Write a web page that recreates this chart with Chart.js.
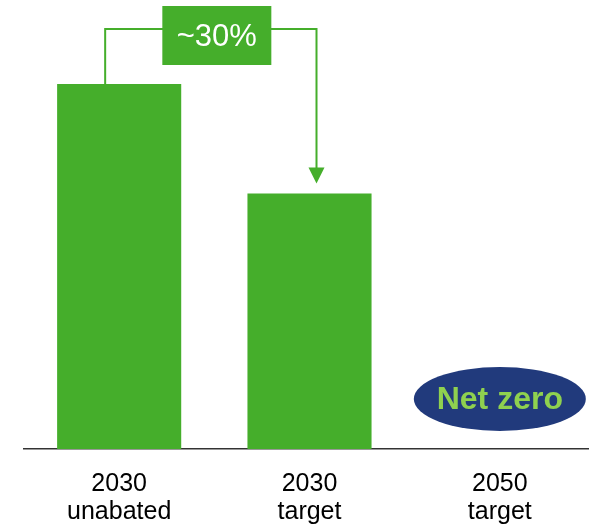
<!DOCTYPE html>
<html>
<head>
    <title>Emissions reduction</title>
    <script src="https://cdn.jsdelivr.net/npm/chart.js"></script>
    <style>
        body { margin: 0; overflow: hidden; background: #fff; }
        #wrap { position: relative; width: 596px; height: 528px; }
    </style>
</head>
<body>
    <div id="wrap"><canvas id="emissionsChart"></canvas></div>

    <script>
        // data (2030 unabated = 100)
        const categories = [['2030', 'unabated'], ['2030', 'target'], ['2050', 'target']];
        const emissions = [100, 70, 0];
        const reductionLabel = '~30%';
        const netZeroLabel = 'Net zero';

        const green = '#45ae2b';

        // bracket with arrow, the ~30% box and the Net zero ellipse
        const annotations = {
            id: 'annotations',
            afterDatasetsDraw(chart) {
                const ctx = chart.ctx;
                const x = chart.scales.x;
                const y = chart.scales.y;
                const x0 = x.getPixelForValue(0) - 14;
                const x1 = x.getPixelForValue(1) + 7;
                const top0 = y.getPixelForValue(emissions[0]);
                const top1 = y.getPixelForValue(emissions[1]);
                const lineY = top0 - 55;

                ctx.save();
                ctx.strokeStyle = green;
                ctx.fillStyle = green;
                ctx.lineWidth = 2;
                ctx.beginPath();
                ctx.moveTo(x0, top0);
                ctx.lineTo(x0, lineY);
                ctx.lineTo(x1, lineY);
                ctx.lineTo(x1, top1 - 20);
                ctx.stroke();
                ctx.beginPath();
                ctx.moveTo(x1 - 8, top1 - 26);
                ctx.lineTo(x1 + 8, top1 - 26);
                ctx.lineTo(x1, top1 - 10);
                ctx.closePath();
                ctx.fill();

                // label box
                const bx = (x0 + x1) / 2 + 6;
                ctx.fillRect(bx - 54.5, lineY - 23, 109, 59);
                ctx.fillStyle = '#fff';
                ctx.font = '31px Arial, "Liberation Sans", sans-serif';
                ctx.textAlign = 'center';
                ctx.textBaseline = 'middle';
                ctx.fillText(reductionLabel, bx, lineY + 8);

                // net zero ellipse
                const ex = x.getPixelForValue(2);
                const ey = y.getPixelForValue(0) - 50;
                ctx.fillStyle = '#213a7c';
                ctx.beginPath();
                ctx.ellipse(ex, ey, 86, 32, 0, 0, Math.PI * 2);
                ctx.fill();
                ctx.fillStyle = '#8fd14f';
                ctx.font = 'bold 32px Arial, "Liberation Sans", sans-serif';
                ctx.fillText(netZeroLabel, ex, ey + 1);
                ctx.restore();
            }
        };

        const emissionsChart = new Chart(document.getElementById('emissionsChart'), {
            type: 'bar',
            data: {
                labels: categories,
                datasets: [{
                    data: emissions,
                    backgroundColor: green,
                    barPercentage: 0.652,
                    categoryPercentage: 1
                }]
            },
            options: {
                responsive: true,
                maintainAspectRatio: false,
                animation: false,
                layout: { padding: { top: 84, left: 24, right: 1, bottom: 4 } },
                plugins: { legend: { display: false }, tooltip: { enabled: false } },
                scales: {
                    x: {
                        grid: { drawOnChartArea: false, drawTicks: false },
                        border: { display: true, color: '#333', width: 1.5 },
                        ticks: {
                            color: '#000',
                            padding: 21,
                            font: { family: 'Arial, "Liberation Sans", sans-serif', size: 25, lineHeight: 1.12 }
                        },
                        afterFit(scale) {
                            scale.height = 75;
                        }
                    },
                    y: {
                        display: false,
                        min: 0,
                        max: 100
                    }
                }
            },
            plugins: [annotations]
        });
    </script>
</body>
</html>
